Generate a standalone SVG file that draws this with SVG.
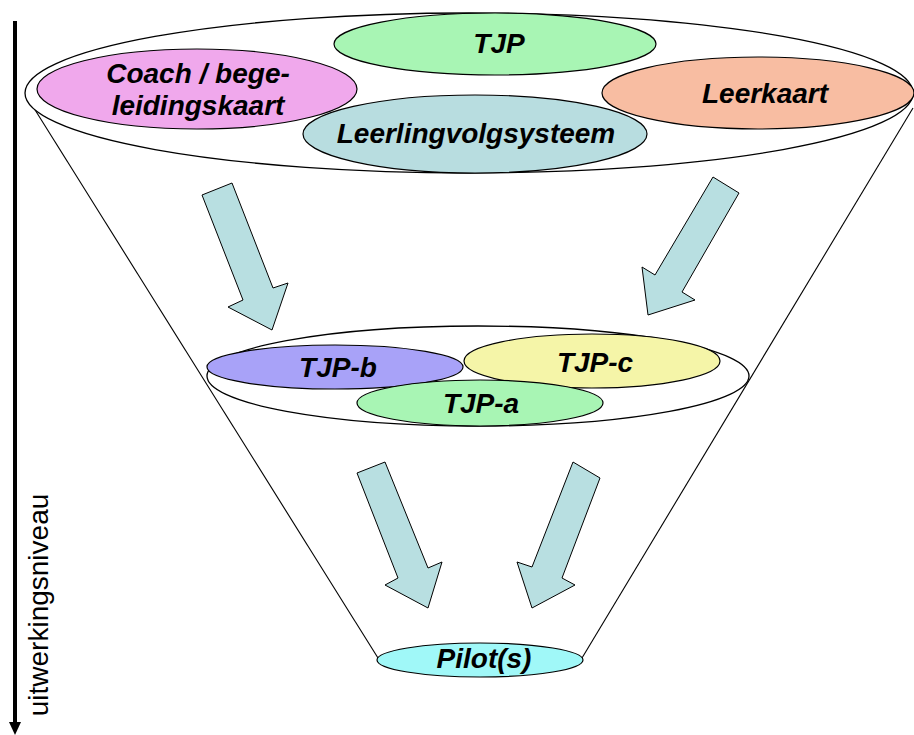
<svg xmlns="http://www.w3.org/2000/svg" width="914" height="735" viewBox="0 0 914 735">
<style>
.ol{fill:#fff;stroke:#000;stroke-width:1.3}
.el{stroke:#000;stroke-width:1.2}
.ar{fill:#b8dfe1;stroke:#000;stroke-width:1}
.t{font-family:"Liberation Sans",Arial,sans-serif;font-weight:bold;font-style:italic;font-size:28px;fill:#000;text-anchor:middle}
.ax{font-family:"Liberation Sans",Arial,sans-serif;font-size:28px;fill:#000;text-anchor:middle}
.fl{stroke:#000;stroke-width:1.1;fill:none}
</style>
<g id="axis">
<line x1="15" y1="21" x2="15" y2="724" stroke="#000" stroke-width="4"/>
<path d="M9,722 L21,722 L15,735 Z" fill="#000"/>
<text class="ax" transform="translate(48,605) rotate(-90)">uitwerkingsniveau</text>
</g>
<g id="funnel">
<line class="fl" x1="27" y1="97" x2="378" y2="658"/>
<line class="fl" x1="913" y1="108" x2="582" y2="658"/>
<ellipse class="ol" cx="469" cy="93" rx="444" ry="80"/>
<ellipse class="ol" cx="478" cy="376" rx="271" ry="50"/>
</g>
<g id="connectors">
<polygon class="ar" points="202,195 232,183 273,288 288,283 272,330 228,307 243,300"/>
<polygon class="ar" points="713,177 739,193 682,292 695,300 648,315 642,267 655,275"/>
<polygon class="ar" points="357,473 385,462 428,568 442,562 428,608 385,585 398,578"/>
<polygon class="ar" points="573,462 600,478 562,578 575,585 532,608 517,562 532,567"/>
</g>
<g id="tjp">
<ellipse class="el" cx="495" cy="44" rx="161" ry="31" fill="#a8f5b4"/>
<text class="t" x="499" y="53">TJP</text>
</g>
<g id="coach">
<ellipse class="el" cx="197" cy="89" rx="160" ry="40" fill="#f0a8ec"/>
<text class="t" x="198" y="83">Coach / bege-</text>
<text class="t" x="198" y="115">leidingskaart</text>
</g>
<g id="leerkaart">
<ellipse class="el" cx="758" cy="93" rx="156" ry="36" fill="#f8bda2"/>
<text class="t" x="765" y="103">Leerkaart</text>
</g>
<g id="leerlingvolgsysteem">
<ellipse class="el" cx="475" cy="134" rx="172" ry="39" fill="#b8dde0"/>
<text class="t" x="476" y="143">Leerlingvolgsysteem</text>
</g>
<g id="tjp-b">
<ellipse class="el" cx="335" cy="367" rx="128" ry="22" fill="#a8a2f8"/>
<text class="t" x="338" y="377">TJP-b</text>
</g>
<g id="tjp-c">
<ellipse class="el" cx="592" cy="361" rx="128" ry="27" fill="#f5f5a8"/>
<text class="t" x="595" y="372">TJP-c</text>
</g>
<g id="tjp-a">
<ellipse class="el" cx="480" cy="403" rx="123" ry="23" fill="#a8f5b4"/>
<text class="t" x="481" y="413">TJP-a</text>
</g>
<g id="pilot">
<ellipse class="el" cx="480" cy="660" rx="103" ry="17" fill="#a0f8f8"/>
<text class="t" x="484" y="668">Pilot(s)</text>
</g>
</svg>
